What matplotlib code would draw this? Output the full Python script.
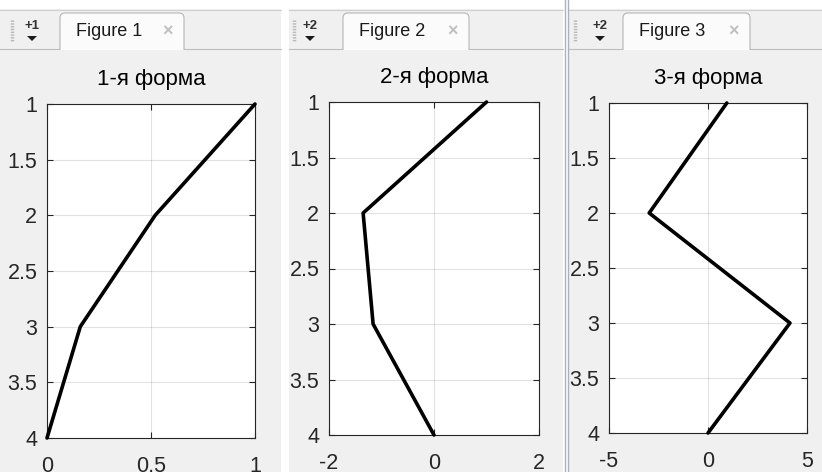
"""Three MATLAB-style figure windows with the mode shapes of a 3-DOF system."""

import matplotlib
matplotlib.use("Agg")
import matplotlib.pyplot as plt
import matplotlib.transforms as mtransforms
from matplotlib.patches import FancyBboxPatch, Rectangle, Polygon
from matplotlib.lines import Line2D

plt.rcParams["font.family"] = ["Liberation Sans", "DejaVu Sans"]

W, H = 822, 472

# Floor levels (y axis, 1 at top) and the modal displacements
levels = [1, 2, 3, 4]
mode1 = [1.0, 0.52, 0.16, 0.0]
mode2 = [1.0, -1.35, -1.16, 0.0]
mode3 = [0.95, -2.97, 4.14, 0.0]

titles = ["1-я форма", "2-я форма", "3-я форма"]
tab_names = ["Figure 1", "Figure 2", "Figure 3"]
tab_badges = ["+1", "+2", "+2"]

y_ticks = [1, 1.5, 2, 2.5, 3, 3.5, 4]
y_tick_labels = ["1", "1.5", "2", "2.5", "3", "3.5", "4"]
x_ticks = [[0, 0.5, 1], [-2, 0, 2], [-5, 0, 5]]
x_tick_labels = [["0", "0.5", "1"], ["-2", "0", "2"], ["-5", "0", "5"]]
x_limits = [(0, 1), (-2, 2), (-5, 5)]

# Window layout in pixels: (left, right) of each window, tab geometry, axes box
windows = [(0, 281), (289, 563), (569, 822)]
grips = [12, 294, 575]
badges = [32, 310, 600]
tabs = [(60, 184), (343, 469), (623, 750)]
axes_boxes = [(47, 255, 104, 438), (329, 539, 102, 435), (609, 807, 103, 433)]

BODY = "#f0f0f0"
INK = "#262626"
PIX = mtransforms.IdentityTransform()


def flip(y):
    return H - y


def draw_window(fig, i):
    """Gray window body, tab bar and the active tab."""
    left, right = windows[i]
    fig.add_artist(Rectangle((left, flip(H)), right - left, H - 9,
                             transform=PIX, facecolor=BODY, edgecolor="none", zorder=0))
    fig.add_artist(Line2D([left, right], [flip(9.5), flip(9.5)], transform=PIX,
                          color="#cfcfcf", lw=0.8, zorder=1))
    fig.add_artist(Line2D([left, right], [flip(49), flip(49)], transform=PIX,
                          color="#bdbdbd", lw=0.8, zorder=1))

    t0, t1 = tabs[i]
    fig.add_artist(FancyBboxPatch((t0, flip(58)), t1 - t0, 45,
                                  boxstyle="round,pad=0,rounding_size=5",
                                  transform=PIX, facecolor="#fbfbfb",
                                  edgecolor="#b5b5b5", lw=0.8, zorder=2))
    fig.add_artist(Rectangle((t0 - 2, flip(62)), t1 - t0 + 4, 12.5,
                             transform=PIX, facecolor=BODY, edgecolor="none", zorder=3))
    fig.text((t0 + 16) / W, flip(32) / H, tab_names[i], fontsize=13,
             color="#1a1a1a", ha="left", va="center")
    fig.text((t1 - 17) / W, flip(32) / H, "×", fontsize=13,
             color="#c0c0c0", ha="center", va="center", fontweight="bold")

    # grip and "+n" badge
    g = grips[i]
    fig.add_artist(Line2D([g, g], [flip(20), flip(42)], transform=PIX,
                          color="#b8b8b8", lw=2.5, ls=(0, (0.4, 0.4)), zorder=2))
    b = badges[i]
    fig.text(b / W, flip(26) / H, tab_badges[i], fontsize=9.5, color="#333333",
             ha="center", va="center", fontweight="bold")
    fig.add_artist(Polygon([(b - 5, flip(36)), (b + 5, flip(36)), (b, flip(41))],
                           closed=True, transform=PIX, facecolor="#1a1a1a",
                           edgecolor="none", zorder=2))


def draw_mode(fig, i, values):
    """One mode shape in MATLAB axes style."""
    l, r, t, b = axes_boxes[i]
    ax = fig.add_axes([l / W, flip(b) / H, (r - l) / W, (b - t) / H])
    ax.set_facecolor("white")
    ax.plot(values, levels, color="black", lw=2.6, solid_joinstyle="round",
            solid_capstyle="round", clip_on=False, zorder=3)
    ax.set_xlim(*x_limits[i])
    ax.set_ylim(4, 1)
    ax.set_xticks(x_ticks[i], x_tick_labels[i])
    ax.set_yticks(y_ticks, y_tick_labels)
    ax.grid(True, color=INK, alpha=0.13, lw=0.8)
    ax.tick_params(direction="in", length=4, width=0.8, color=INK,
                   top=True, right=True, labelsize=15.5, labelcolor=INK)
    ax.tick_params(axis="x", pad=13)
    ax.tick_params(axis="y", pad=7)
    for sp in ax.spines.values():
        sp.set_color(INK)
        sp.set_linewidth(0.8)
    ax.set_title(titles[i], fontsize=16, color="black", pad=14)


def main():
    fig = plt.figure(figsize=(W / 100, H / 100), dpi=100)
    fig.patch.set_facecolor("white")

    for i in range(3):
        draw_window(fig, i)

    # double divider between windows 2 and 3
    for x in (565, 568):
        fig.add_artist(Line2D([x, x], [0, H], transform=PIX,
                              color="#a9b2be", lw=1.0, zorder=1))

    for i, vals in enumerate([mode1, mode2, mode3]):
        draw_mode(fig, i, vals)

    fig.savefig("out.png", dpi=100)


if __name__ == "__main__":
    main()
